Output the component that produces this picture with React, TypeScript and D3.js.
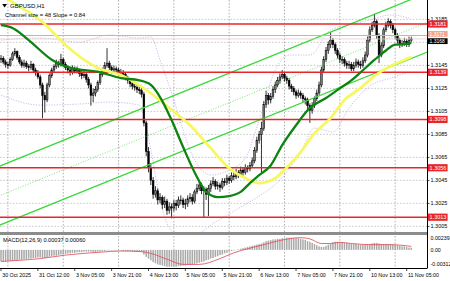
import React from "react";
import * as d3 from "d3";

// ---------- data ----------
const timeLabels = ["30 Oct 2025", "31 Oct 12:00", "3 Nov 05:00", "3 Nov 21:00", "4 Nov 13:00", "5 Nov 05:00", "5 Nov 21:00", "6 Nov 13:00", "7 Nov 05:00", "7 Nov 21:00", "10 Nov 13:00", "11 Nov 05:00"];
const priceTicks = [1.3185, 1.3165, 1.3145, 1.3125, 1.3105, 1.3085, 1.3065, 1.3045, 1.3025, 1.3005];
const levels = [1.3181, 1.3139, 1.3098, 1.3056, 1.3013];
const askLevel = 1.3171;
const bidLevel = 1.3168;

const opens = [
  1.3150, 1.3151, 1.3148, 1.3146, 1.3145, 1.3150, 1.3155, 1.3157, 1.3152, 1.3148,
  1.3145, 1.3147, 1.3144, 1.3143, 1.3146, 1.3141, 1.3139, 1.3135, 1.3128, 1.3119,
  1.3115, 1.3128, 1.3136, 1.3141, 1.3144, 1.3147, 1.3146, 1.3150, 1.3146, 1.3143,
  1.3141, 1.3139, 1.3142, 1.3140, 1.3141, 1.3138, 1.3136, 1.3137, 1.3133, 1.3128,
  1.3119, 1.3121, 1.3124, 1.3130, 1.3137, 1.3141, 1.3145, 1.3147, 1.3143, 1.3141,
  1.3142, 1.3141, 1.3138, 1.3139, 1.3137, 1.3134, 1.3132, 1.3129, 1.3127, 1.3126,
  1.3124, 1.3123, 1.3120, 1.3095, 1.3070, 1.3056, 1.3045, 1.3033, 1.3036, 1.3028,
  1.3030, 1.3024, 1.3027, 1.3019, 1.3022, 1.3021, 1.3025, 1.3023, 1.3028, 1.3028,
  1.3024, 1.3025, 1.3029, 1.3030, 1.3027, 1.3035, 1.3038, 1.3041, 1.3036, 1.3037,
  1.3033, 1.3038, 1.3042, 1.3044, 1.3040, 1.3041, 1.3039, 1.3044, 1.3043, 1.3047,
  1.3045, 1.3049, 1.3048, 1.3052, 1.3050, 1.3054, 1.3052, 1.3056, 1.3055, 1.3058,
  1.3062, 1.3071, 1.3080, 1.3085, 1.3090, 1.3111, 1.3119, 1.3115, 1.3118, 1.3124,
  1.3128, 1.3132, 1.3135, 1.3137, 1.3134, 1.3132, 1.3127, 1.3125, 1.3122, 1.3119,
  1.3121, 1.3119, 1.3116, 1.3115, 1.3110, 1.3106, 1.3110, 1.3116, 1.3121, 1.3128,
  1.3141, 1.3150, 1.3158, 1.3163, 1.3167, 1.3163, 1.3158, 1.3154, 1.3150, 1.3150,
  1.3147, 1.3145, 1.3146, 1.3142, 1.3145, 1.3148, 1.3146, 1.3145, 1.3149, 1.3154,
  1.3167, 1.3176, 1.3180, 1.3183, 1.3171, 1.3154, 1.3162, 1.3176, 1.3180, 1.3183,
  1.3180, 1.3176, 1.3171, 1.3167, 1.3163, 1.3164, 1.3166, 1.3163, 1.3167,
];
const highs = [
  1.3154, 1.3153, 1.3150, 1.3148, 1.3152, 1.3157, 1.3160, 1.3158, 1.3154, 1.3150,
  1.3150, 1.3149, 1.3146, 1.3149, 1.3147, 1.3143, 1.3141, 1.3137, 1.3130, 1.3122,
  1.3130, 1.3138, 1.3143, 1.3146, 1.3150, 1.3149, 1.3155, 1.3152, 1.3148, 1.3145,
  1.3143, 1.3145, 1.3144, 1.3144, 1.3142, 1.3140, 1.3140, 1.3139, 1.3135, 1.3130,
  1.3125, 1.3127, 1.3132, 1.3139, 1.3143, 1.3148, 1.3160, 1.3149, 1.3145, 1.3145,
  1.3144, 1.3143, 1.3142, 1.3141, 1.3139, 1.3136, 1.3134, 1.3131, 1.3130, 1.3128,
  1.3127, 1.3126, 1.3122, 1.3097, 1.3074, 1.3060, 1.3048, 1.3040, 1.3038, 1.3034,
  1.3032, 1.3031, 1.3029, 1.3026, 1.3025, 1.3028, 1.3028, 1.3031, 1.3032, 1.3030,
  1.3029, 1.3032, 1.3034, 1.3033, 1.3037, 1.3042, 1.3045, 1.3043, 1.3040, 1.3039,
  1.3041, 1.3045, 1.3048, 1.3046, 1.3044, 1.3043, 1.3047, 1.3047, 1.3050, 1.3049,
  1.3052, 1.3052, 1.3055, 1.3054, 1.3057, 1.3056, 1.3059, 1.3058, 1.3061, 1.3065,
  1.3074, 1.3083, 1.3088, 1.3096, 1.3114, 1.3123, 1.3121, 1.3121, 1.3127, 1.3131,
  1.3135, 1.3138, 1.3141, 1.3139, 1.3136, 1.3134, 1.3129, 1.3127, 1.3124, 1.3124,
  1.3123, 1.3121, 1.3118, 1.3117, 1.3112, 1.3113, 1.3118, 1.3124, 1.3131, 1.3144,
  1.3153, 1.3161, 1.3166, 1.3174, 1.3169, 1.3165, 1.3160, 1.3156, 1.3153, 1.3152,
  1.3149, 1.3149, 1.3148, 1.3148, 1.3151, 1.3150, 1.3149, 1.3152, 1.3157, 1.3170,
  1.3179, 1.3183, 1.3190, 1.3185, 1.3173, 1.3165, 1.3178, 1.3183, 1.3186, 1.3185,
  1.3182, 1.3178, 1.3173, 1.3169, 1.3167, 1.3169, 1.3168, 1.3170, 1.3170,
];
const lows = [
  1.3147, 1.3146, 1.3143, 1.3142, 1.3144, 1.3149, 1.3153, 1.3150, 1.3146, 1.3143,
  1.3143, 1.3142, 1.3140, 1.3141, 1.3139, 1.3136, 1.3133, 1.3125, 1.3099, 1.3104,
  1.3113, 1.3126, 1.3134, 1.3139, 1.3142, 1.3143, 1.3144, 1.3144, 1.3141, 1.3138,
  1.3136, 1.3137, 1.3138, 1.3138, 1.3135, 1.3133, 1.3134, 1.3130, 1.3125, 1.3110,
  1.3113, 1.3118, 1.3122, 1.3128, 1.3135, 1.3139, 1.3143, 1.3141, 1.3138, 1.3139,
  1.3138, 1.3136, 1.3136, 1.3134, 1.3132, 1.3129, 1.3126, 1.3124, 1.3123, 1.3121,
  1.3120, 1.3117, 1.3092, 1.3066, 1.3052, 1.3041, 1.3029, 1.3030, 1.3024, 1.3025,
  1.3020, 1.3021, 1.3015, 1.3016, 1.3012, 1.3018, 1.3019, 1.3021, 1.3024, 1.3021,
  1.3020, 1.3022, 1.3026, 1.3024, 1.3025, 1.3033, 1.3036, 1.3033, 1.3013, 1.3028,
  1.3014, 1.3035, 1.3040, 1.3037, 1.3037, 1.3035, 1.3037, 1.3040, 1.3041, 1.3042,
  1.3043, 1.3045, 1.3046, 1.3047, 1.3048, 1.3049, 1.3050, 1.3052, 1.3053, 1.3056,
  1.3060, 1.3069, 1.3077, 1.3052, 1.3088, 1.3108, 1.3111, 1.3112, 1.3116, 1.3121,
  1.3126, 1.3129, 1.3133, 1.3131, 1.3129, 1.3124, 1.3122, 1.3119, 1.3116, 1.3117,
  1.3116, 1.3113, 1.3111, 1.3107, 1.3095, 1.3103, 1.3108, 1.3114, 1.3119, 1.3126,
  1.3139, 1.3148, 1.3155, 1.3160, 1.3160, 1.3155, 1.3151, 1.3147, 1.3146, 1.3144,
  1.3142, 1.3142, 1.3140, 1.3140, 1.3143, 1.3143, 1.3142, 1.3143, 1.3147, 1.3152,
  1.3165, 1.3174, 1.3178, 1.3168, 1.3147, 1.3152, 1.3160, 1.3174, 1.3178, 1.3177,
  1.3173, 1.3168, 1.3164, 1.3160, 1.3161, 1.3162, 1.3161, 1.3161, 1.3165,
];
const closes = [
  1.3151, 1.3148, 1.3146, 1.3145, 1.3150, 1.3155, 1.3157, 1.3152, 1.3148, 1.3145,
  1.3147, 1.3144, 1.3143, 1.3146, 1.3141, 1.3139, 1.3135, 1.3128, 1.3119, 1.3115,
  1.3128, 1.3136, 1.3141, 1.3144, 1.3147, 1.3146, 1.3150, 1.3146, 1.3143, 1.3141,
  1.3139, 1.3142, 1.3140, 1.3141, 1.3138, 1.3136, 1.3137, 1.3133, 1.3128, 1.3119,
  1.3121, 1.3124, 1.3130, 1.3137, 1.3141, 1.3145, 1.3147, 1.3143, 1.3141, 1.3142,
  1.3141, 1.3138, 1.3139, 1.3137, 1.3134, 1.3132, 1.3129, 1.3127, 1.3126, 1.3124,
  1.3123, 1.3120, 1.3095, 1.3070, 1.3056, 1.3045, 1.3033, 1.3036, 1.3028, 1.3030,
  1.3024, 1.3027, 1.3019, 1.3022, 1.3021, 1.3025, 1.3023, 1.3028, 1.3028, 1.3024,
  1.3025, 1.3029, 1.3030, 1.3027, 1.3035, 1.3038, 1.3041, 1.3036, 1.3037, 1.3033,
  1.3038, 1.3042, 1.3044, 1.3040, 1.3041, 1.3039, 1.3044, 1.3043, 1.3047, 1.3045,
  1.3049, 1.3048, 1.3052, 1.3050, 1.3054, 1.3052, 1.3056, 1.3055, 1.3058, 1.3062,
  1.3071, 1.3080, 1.3085, 1.3090, 1.3111, 1.3119, 1.3115, 1.3118, 1.3124, 1.3128,
  1.3132, 1.3135, 1.3137, 1.3134, 1.3132, 1.3127, 1.3125, 1.3122, 1.3119, 1.3121,
  1.3119, 1.3116, 1.3115, 1.3110, 1.3106, 1.3110, 1.3116, 1.3121, 1.3128, 1.3141,
  1.3150, 1.3158, 1.3163, 1.3167, 1.3163, 1.3158, 1.3154, 1.3150, 1.3150, 1.3147,
  1.3145, 1.3146, 1.3142, 1.3145, 1.3148, 1.3146, 1.3145, 1.3149, 1.3154, 1.3167,
  1.3176, 1.3180, 1.3183, 1.3171, 1.3154, 1.3162, 1.3176, 1.3180, 1.3183, 1.3180,
  1.3176, 1.3171, 1.3167, 1.3163, 1.3164, 1.3166, 1.3163, 1.3167, 1.3168,
];

// moving averages: [bar index, price]
const maFast: [number, number][] = [
  [0, 1.3180], [5, 1.31775], [12, 1.3167], [22, 1.3150], [30, 1.3143], [43, 1.3139], [52, 1.3134],
  [60, 1.3132], [65, 1.3128], [69, 1.31175], [74, 1.30975], [79, 1.3074], [85, 1.3048], [89, 1.3035],
  [94, 1.30305], [99, 1.30314], [104, 1.3035], [108, 1.30427], [112, 1.30496], [117, 1.3058],
  [122, 1.30757], [128, 1.3093], [134, 1.3108], [141, 1.31166], [147, 1.3125], [152, 1.3132],
  [156, 1.3139], [162, 1.31497], [167, 1.3158], [171, 1.3163], [175, 1.31636], [178, 1.31645],
];
const maSlow: [number, number][] = [
  [0, 1.3206], [7, 1.31975], [18, 1.31827], [28, 1.31627], [42, 1.31427], [52, 1.31366], [63, 1.31236],
  [73, 1.3108], [82, 1.3093], [91, 1.3073], [99, 1.30557], [106, 1.3047], [112, 1.30427], [119, 1.3047],
  [125, 1.30583], [130, 1.30696], [136, 1.3086], [143, 1.30992], [149, 1.31149], [156, 1.31253],
  [162, 1.31358], [169, 1.31445], [175, 1.31497], [178, 1.31523],
];
const bandUpper: [number, number][] = [
  [0, 1.3167], [17, 1.31688], [34, 1.31653], [47, 1.31714], [60, 1.31688], [65, 1.31697], [69, 1.31497],
  [75, 1.31149], [82, 1.30714], [91, 1.30496], [99, 1.3054], [106, 1.30644], [112, 1.30975], [119, 1.3141],
  [125, 1.3154], [134, 1.3154], [143, 1.31758], [151, 1.31801], [160, 1.31845], [169, 1.31888], [177, 1.31862],
];
const bandLower: [number, number][] = [
  [0, 1.31192], [17, 1.31105], [34, 1.31114], [47, 1.31131], [60, 1.31105], [65, 1.30714], [69, 1.30279],
  [75, 1.3000], [84, 1.29983], [93, 1.30087], [104, 1.30218], [112, 1.30314], [121, 1.30453], [130, 1.30696],
  [136, 1.30905], [144, 1.3087], [151, 1.31079], [160, 1.3127], [169, 1.3134], [177, 1.31392],
];
// regression channel: [bar index, price] end points
const channelUpper: [number, number][] = [[-1, 1.3057], [185, 1.32081]];
const channelMiddle: [number, number][] = [[-1, 1.30314], [185, 1.31824]];
const channelLower: [number, number][] = [[-1, 1.30057], [185, 1.31567]];

const macdHist = [
  -0.0020, -0.0020, -0.0020, -0.0019, -0.0019, -0.0019, -0.0018, -0.0018, -0.0017,
  -0.0017, -0.0016, -0.0016, -0.0015, -0.0015, -0.0014, -0.0014, -0.0013, -0.0013,
  -0.0014, -0.0014, -0.0013, -0.0012, -0.0011, -0.0010, -0.0010, -0.0009, -0.0008, -0.0008,
  -0.0007, -0.0006, -0.0006, -0.0005, -0.0005, -0.0004, -0.0004, -0.0004, -0.0003, -0.0003,
  -0.0003, -0.0003, -0.0004, -0.0004, -0.0003, -0.0003, -0.0002, -0.0002, -0.0001, -0.0001,
  -0.0001, -0.0001, -0.0001, -0.0001, -0.0001, -0.0002, -0.0002, -0.0002, -0.0002, -0.0003,
  -0.0003, -0.0003, -0.0003, -0.0004,
  -0.0008, -0.0012, -0.0015, -0.0018, -0.0021, -0.0023, -0.0025, -0.0026, -0.0027,
  -0.0028, -0.0029, -0.0029, -0.0029, -0.0029, -0.0029, -0.0028, -0.0028, -0.0027, -0.0027,
  -0.0026, -0.0026, -0.0025, -0.0024,
  -0.0023, -0.0022, -0.0021, -0.0020, -0.0018, -0.0017, -0.0015, -0.0014, -0.0012, -0.0011,
  -0.0009, -0.0008, -0.0006, -0.0005, -0.0003, -0.0002,
  -0.0001, 0.0, 0.0001, 0.0002, 0.0003, 0.0004, 0.0005, 0.0006, 0.0007, 0.0008, 0.0009, 0.0010,
  0.0011, 0.0013, 0.0015, 0.0016, 0.0017, 0.0018, 0.0018, 0.0019, 0.0019, 0.0020, 0.0020, 0.0021,
  0.0021, 0.0021, 0.0020, 0.0020, 0.0020, 0.0019,
  0.0018, 0.0017, 0.0015, 0.0014, 0.0012, 0.0010, 0.0008, 0.0006, 0.0005, 0.0005,
  0.0007, 0.0009, 0.0011, 0.0013, 0.0014, 0.0014, 0.0013, 0.0013, 0.0012, 0.0012,
  0.0011, 0.0011, 0.0010, 0.0010, 0.0009, 0.0009, 0.0009, 0.0009, 0.0009, 0.0010, 0.0011, 0.0012,
  0.0012, 0.0011, 0.0010, 0.0010, 0.0010, 0.0010, 0.0010, 0.0009, 0.0009, 0.0008, 0.0007, 0.0006,
  0.0006, 0.0005, 0.0004, 0.00037,
];
const macdSignal: [number, number][] = [
  [0, -0.0020], [8, -0.0018], [17, -0.0015], [28, -0.0009], [43, -0.0004], [52, -0.0002], [61, -0.0003],
  [65, -0.0006], [72, -0.0016], [79, -0.0025], [86, -0.0025], [95, -0.0015], [101, -0.0005], [108, 0.0003],
  [115, 0.0010], [122, 0.0017], [130, 0.0021], [134, 0.0019], [139, 0.0011], [143, 0.0011], [147, 0.0013],
  [152, 0.0011], [160, 0.0009], [169, 0.0009], [178, 0.0006],
];
const macdTicks = [0.00239, 0.0, -0.00312];

// ---------- layout ----------
const FONT = "'Liberation Sans', Arial, Helvetica, sans-serif";
const PLOT_R = 427;
const MAIN_B = 232;
const MACD_T = 236;
const MACD_B = 268;
const BAR_STEP = 2.305;
const LABEL_EVERY = 16;
const GRID_START = 3;
const GRID_EVERY = 24;

export default function App() {
  const n = closes.length;
  const x = d3.scaleLinear().domain([0, 1]).range([1, 1 + BAR_STEP]);
  const y = d3.scaleLinear().domain([1.3, 1.3181]).range([232.15, 24]);
  const ym = d3.scaleLinear().domain([-0.00312, 0.00239]).range([MACD_B, MACD_T]);

  const lineP = d3.line<[number, number]>().x((d) => x(d[0])).y((d) => y(d[1])).curve(d3.curveMonotoneX);
  const lineStraight = d3.line<[number, number]>().x((d) => x(d[0])).y((d) => y(d[1]));
  const lineM = d3.line<[number, number]>().x((d) => x(d[0])).y((d) => ym(d[1])).curve(d3.curveMonotoneX);

  const gridIdx = d3.range(GRID_START, n, GRID_EVERY);
  const labelIdx = timeLabels.map((_, k) => k * LABEL_EVERY);

  // right-axis boxes (level prices, ask and bid); ask/bid nudged apart so their labels do not collide
  const boxes = [
    ...levels.map((v) => ({ v, fill: "#e8262a", text: "#fff", shift: 0, h: 7.2, fs: 5.5 })),
    { v: askLevel, fill: "#f2a58e", text: "#fff", shift: -1.6, h: 5.8, fs: 5 },
    { v: bidLevel, fill: "#000", text: "#fff", shift: 2.2, h: 5.8, fs: 5 },
  ];
  const tickLabels = priceTicks.filter((t) => !boxes.some((b) => Math.abs(y(t) - y(b.v)) < 4));

  const bodyW = 1.75;

  return (
    <svg
      width={450}
      height={281}
      style={{ position: "fixed", left: 0, top: 0, background: "#fff" }}
      fontFamily={FONT}
    >
      <defs>
        <clipPath id="cMain">
          <rect x={0} y={0} width={PLOT_R} height={MAIN_B} />
        </clipPath>
        <clipPath id="cMacd">
          <rect x={0} y={MACD_T} width={PLOT_R} height={MACD_B - MACD_T} />
        </clipPath>
      </defs>
      <rect x={0} y={0} width={450} height={281} fill="#fff" />

      {/* grid */}
      <g stroke="#a8a8a8" strokeWidth={0.6} strokeDasharray="1.6,1.6">
        {priceTicks.map((t) => (
          <line key={"h" + t} x1={0} x2={PLOT_R} y1={y(t)} y2={y(t)} />
        ))}
      </g>
      <g stroke="#909090" strokeWidth={0.7} strokeDasharray="1.6,1.6">
        {gridIdx.map((i) => (
          <g key={"v" + i}>
            <line x1={x(i)} x2={x(i)} y1={0} y2={MAIN_B} />
            <line x1={x(i)} x2={x(i)} y1={MACD_T} y2={MACD_B} />
          </g>
        ))}
      </g>

      <g clipPath="url(#cMain)">
        {/* bollinger bands */}
        <g fill="none" stroke="#c6a6e6" strokeWidth={0.8} strokeDasharray="1.2,1.4">
          <path d={lineP(bandUpper) || ""} />
          <path d={lineP(bandLower) || ""} />
        </g>

        {/* candles */}
        {closes.map((c, i) => {
          const o = opens[i];
          const bull = c >= o;
          const top = y(Math.max(o, c));
          const bot = y(Math.min(o, c));
          return (
            <g key={"c" + i}>
              <line x1={x(i)} x2={x(i)} y1={y(highs[i])} y2={y(lows[i])} stroke="#000" strokeWidth={0.8} />
              <rect
                x={x(i) - bodyW / 2}
                y={top}
                width={bodyW}
                height={Math.max(bot - top, 0.8)}
                fill={bull ? "#7a7a7a" : "#000"}
                stroke="#000"
                strokeWidth={0.5}
              />
            </g>
          );
        })}

        {/* channel */}
        <path d={lineStraight(channelUpper) || ""} stroke="#3ad83a" strokeWidth={1.3} fill="none" />
        <path d={lineStraight(channelLower) || ""} stroke="#3ad83a" strokeWidth={1.3} fill="none" />
        <path d={lineStraight(channelMiddle) || ""} stroke="#3ad83a" strokeWidth={0.7} strokeDasharray="1,1.6" fill="none" />

        {/* horizontal levels */}
        <line x1={0} x2={PLOT_R} y1={y(askLevel)} y2={y(askLevel)} stroke="#f2a58e" strokeWidth={1} />
        <line x1={0} x2={PLOT_R} y1={y(bidLevel)} y2={y(bidLevel)} stroke="#e6cccc" strokeWidth={0.8} />
        {levels.map((v) => (
          <line key={"l" + v} x1={0} x2={PLOT_R} y1={y(v)} y2={y(v)} stroke="#e8262a" strokeWidth={1.6} />
        ))}

        {/* moving averages */}
        <path d={lineP(maSlow) || ""} stroke="#f7f75e" strokeWidth={2.7} fill="none" />
        <path d={lineP(maFast) || ""} stroke="#0b8412" strokeWidth={2.3} fill="none" />
      </g>

      {/* macd */}
      <g clipPath="url(#cMacd)">
        {macdHist.map((v, i) => (
          <rect
            key={"m" + i}
            x={x(i) - 0.75}
            y={Math.min(ym(v), ym(0))}
            width={1.5}
            height={Math.max(Math.abs(ym(v) - ym(0)), 0.3)}
            fill="#a9a9a9"
          />
        ))}
        <path d={lineM(macdSignal) || ""} stroke="#e0505a" strokeWidth={0.85} fill="none" />
      </g>

      {/* panel separator and frame */}
      <rect x={0} y={MAIN_B} width={PLOT_R} height={3} fill="#8c8c8c" />
      <line x1={PLOT_R + 0.5} x2={PLOT_R + 0.5} y1={0} y2={MACD_B} stroke="#000" strokeWidth={1} />
      <line x1={0} x2={PLOT_R + 0.5} y1={MACD_B + 0.5} y2={MACD_B + 0.5} stroke="#000" strokeWidth={1} />

      {/* title texts */}
      <path d="M2.2,4 L7,4 L4.6,7.4 Z" fill="#000" />
      <text x={10} y={8} fontSize={6} fill="#000">GBPUSD,H1</text>
      <text x={5} y={16.5} fontSize={5.75} fill="#000">Channel size = 48 Slope = 0.84</text>
      <text x={3} y={242} fontSize={5.6} fill="#000">MACD(12,26,9) 0.00037 0.00060</text>

      {/* right price axis */}
      {tickLabels.map((t) => (
        <g key={"t" + t}>
          <line x1={PLOT_R} x2={PLOT_R + 2.5} y1={y(t)} y2={y(t)} stroke="#000" strokeWidth={0.7} />
          <text x={430.5} y={y(t)} dy="0.35em" fontSize={5.5} fill="#000">
            {t.toFixed(4)}
          </text>
        </g>
      ))}
      {boxes.map((b) => (
        <g key={"b" + b.v}>
          <rect x={427.8} y={y(b.v) + b.shift - b.h / 2} width={19.8} height={b.h} fill={b.fill} />
          <text x={429.6} y={y(b.v) + b.shift} dy="0.35em" fontSize={b.fs} fill={b.text}>
            {b.v.toFixed(4)}
          </text>
        </g>
      ))}

      {/* macd axis */}
      {macdTicks.map((t, k) => {
        const yy = k === 0 ? ym(t) + 2.2 : k === 2 ? ym(t) - 3.5 : ym(t);
        return (
          <text key={"mt" + k} x={430.5} y={yy} dy="0.35em" fontSize={5.3} fill="#000">
            {t === 0 ? "0.00" : t.toFixed(5)}
          </text>
        );
      })}

      {/* time axis */}
      {labelIdx.map((i, k) => (
        <g key={"x" + i}>
          <line x1={x(i)} x2={x(i)} y1={MACD_B} y2={MACD_B + 3} stroke="#000" strokeWidth={0.7} />
          <text x={x(i) + 1.2} y={276.5} fontSize={5.3} fill="#000">
            {timeLabels[k]}
          </text>
        </g>
      ))}
    </svg>
  );
}
